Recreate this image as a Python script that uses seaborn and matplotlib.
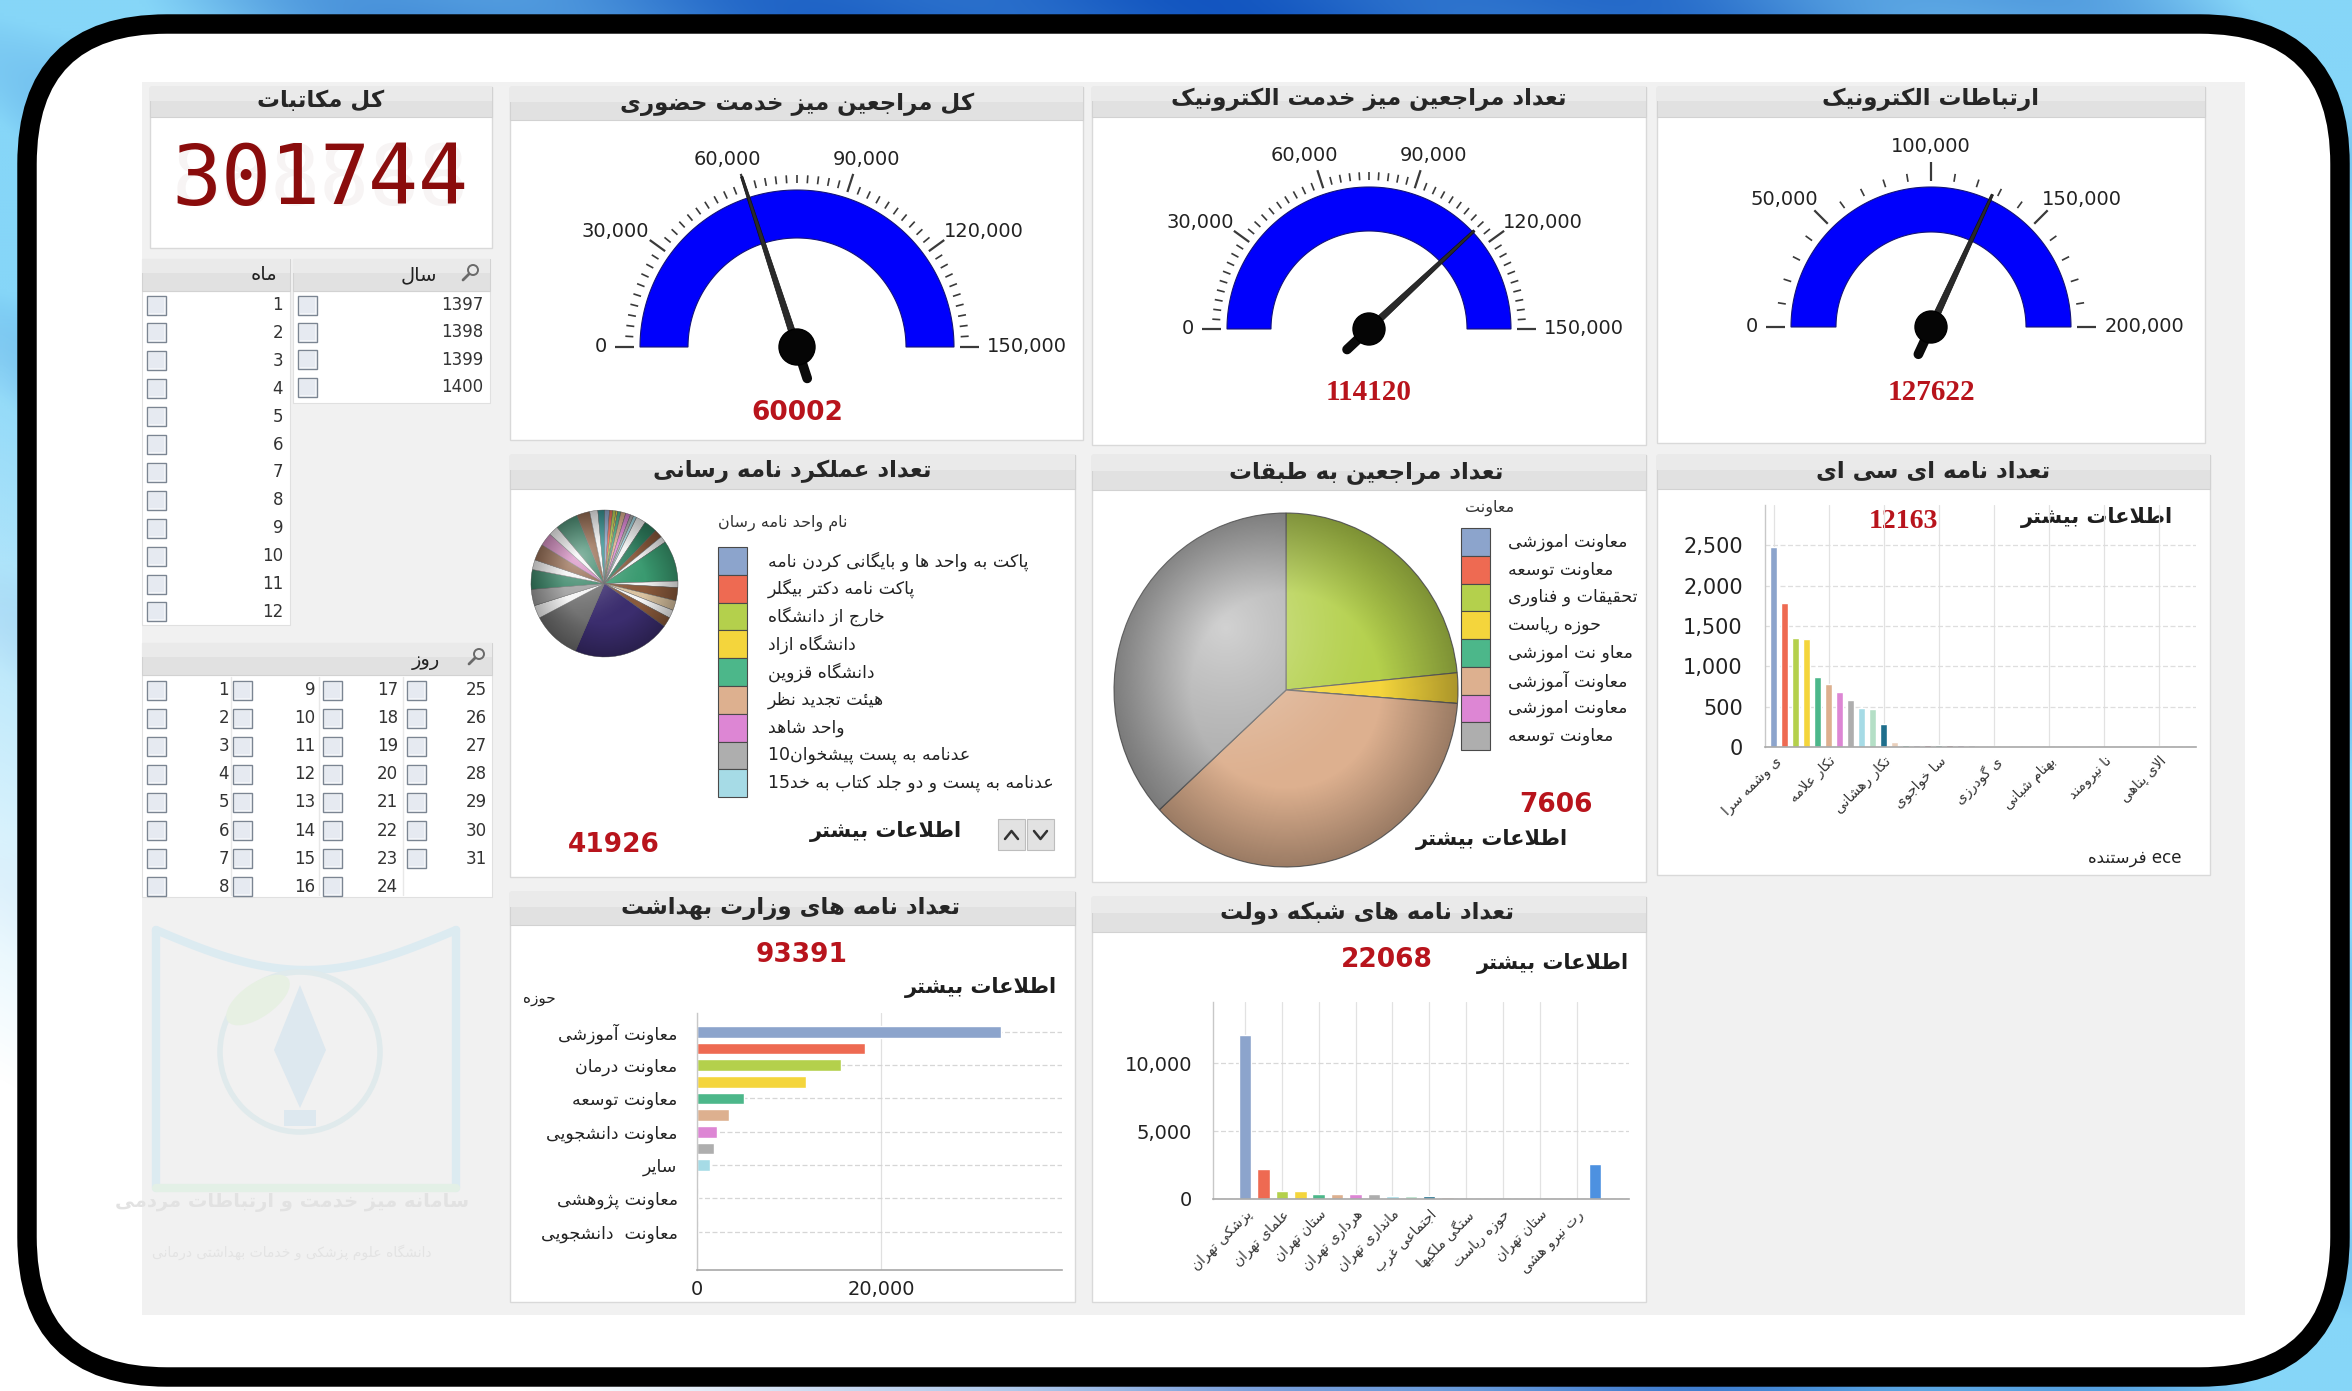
import re
import numpy as np
import pandas as pd
import matplotlib
matplotlib.use("Agg")
import matplotlib.pyplot as plt
import seaborn as sns
from matplotlib.patches import Rectangle, FancyBboxPatch, Polygon, Circle, Ellipse
from matplotlib.colors import to_rgb
from matplotlib.ticker import FuncFormatter

# ------------------------------------------------------------------ data
total_letters = "301744"
count_title = "کل مکاتبات"
gauge_titles = ["کل مراجعین میز خدمت حضوری", "تعداد مراجعین میز خدمت الکترونیک", "ارتباطات الکترونیک"]
gauge_values = [60002, 114120, 127622]
gauge_max = [150000, 150000, 200000]
gauge_major = [30000, 30000, 50000]
gauge_minor = [3000, 3000, 10000]

months = list(range(1, 13))
years = [1397, 1398, 1399, 1400]
days = list(range(1, 32))

courier_title = "تعداد عملکرد نامه رسانی"
courier_legend_title = "نام واحد نامه رسان"
courier_names = ["پاکت به واحد ها و بایگانی کردن نامه", "پاکت نامه دکتر بیگلر", "خارج از دانشگاه",
                 "دانشگاه ازاد", "دانشگاه قزوین", "هیئت تجدید نظر", "واحد شاهد",
                 "عدنامه به پست پیشخوان10", "عدنامه به پست و دو جلد کتاب به خد15"]
courier_values = [452, 302, 302, 151, 302, 452, 452, 302, 302,
                  905, 1206, 754, 603, 3770, 603, 1206, 905, 754, 905, 9048, 4524,
                  1206, 1508, 1810, 905, 1508, 1206, 905, 2111, 1206, 754, 607]
courier_total = 41926

floor_title = "تعداد مراجعین به طبقات"
floor_legend_title = "معاونت"
floor_names = ["معاونت اموزشی", "معاونت توسعه", "تحقیقات و فناوری", "حوزه ریاست",
               "معاو نت اموزشی", "معاونت آموزشی", "معاونت اموزشی", "معاونت توسعه"]
floor_values = [0, 0, 1783, 211, 0, 2811, 0, 2801]
floor_total = 7606

cc_title = "تعداد نامه ای سی ای"
cc_values = [2480, 1785, 1355, 1335, 868, 777, 682, 587, 488, 475, 281, 62, 29, 21, 29, 29, 29, 29, 21,
             12, 10, 10, 8, 8, 6, 6, 5, 5, 14, 5, 5, 10, 12, 12, 10, 10, 6, 5, 5]
cc_tick_labels = ["ی وشمه سرا", "تکار علامه", "تکار رهشانی", "سا خواجوی", "ی گودرزی",
                  "بهنام شبانی", "نا نیرومند", "الای پناهی"]
cc_axis_title = "ece فرستنده"
cc_total = 12163

moh_title = "تعداد نامه های وزارت بهداشت"
moh_values = [33000, 18300, 15650, 11870, 5110, 3500, 2210, 1890, 1410, 150, 110, 80, 60, 30, 21]
moh_labels = ["معاونت آموزشی", "معاونت درمان", "معاونت توسعه", "معاونت دانشجویی", "سایر",
              "معاونت پژوهشی", "معاونت  دانشجویی"]
moh_axis_title = "حوزه"
moh_total = 93391

gov_title = "تعداد نامه های شبکه دولت"
gov_values = [12080, 2210, 560, 560, 390, 390, 390, 390, 200, 200, 245, 150, 20, 15, 10, 10, 8, 5, 5, 2600]
gov_tick_labels = ["پزشکی تهران", "علمای تهران", "ستان تهران", "هرداری تهران", "مانداری تهران",
                   "اجتماعی غرب", "ستگی ملکیها", "حوزه ریاست", "ستان تهران", "رت نیرو هشی"]
gov_total = 22068

more_text = "اطلاعات بیشتر"
logo_lines = ["سامانه میز خدمت و ارتباطات مردمی", "دانشگاه علوم پزشکی و خدمات بهداشتی درمانی"]

palette20 = ['#8ca4cc', '#ee6a52', '#b4d04c', '#f4d53c', '#4cb78a', '#ddb08f', '#dd86d4', '#aeaeae',
             '#a6dbe6', '#b4dfc6', '#1e6e8c', '#ead0bc', '#37a07c', '#a392b5', '#8c2b44', '#2e8f80',
             '#7d2f4a', '#9b78a8', '#b8b8c4', '#4d91e0']
_w, _dg, _br, _be, _sg, _nv, _dk, _gr, _pk, _tl = ('#f4f4f4', '#2f7f5f', '#8a5a3c', '#d9c2a0', '#3a9a70',
                                                   '#3b2d6e', '#6e6e6e', '#9a9a9a', '#d07ab8', '#2a8c8c')
courier_colors = palette20[:9] + [_w, _dg, _br, _w, _sg, _w, _br, _be, _w, _br, _nv, _dk, _w, _gr,
                                  _dg, _w, _br, _pk, _w, _dg, _br, _w, _tl]

# ------------------------------------------------------------------ Persian shaping helpers
_DUAL = {'\u0626': 0xFE89, '\u0628': 0xFE8F, '\u062A': 0xFE95, '\u062B': 0xFE99, '\u062C': 0xFE9D,
         '\u062D': 0xFEA1, '\u062E': 0xFEA5, '\u0633': 0xFEB1, '\u0634': 0xFEB5, '\u0635': 0xFEB9,
         '\u0636': 0xFEBD, '\u0637': 0xFEC1, '\u0638': 0xFEC5, '\u0639': 0xFEC9, '\u063A': 0xFECD,
         '\u0641': 0xFED1, '\u0642': 0xFED5, '\u0643': 0xFED9, '\u0644': 0xFEDD, '\u0645': 0xFEE1,
         '\u0646': 0xFEE5, '\u0647': 0xFEE9, '\u064A': 0xFEF1, '\u067E': 0xFB56, '\u0686': 0xFB7A,
         '\u06A9': 0xFB8E, '\u06AF': 0xFB92, '\u06CC': 0xFBFC}
_RIGHT = {'\u0622': 0xFE81, '\u0623': 0xFE83, '\u0624': 0xFE85, '\u0625': 0xFE87, '\u0627': 0xFE8D,
          '\u0629': 0xFE93, '\u062F': 0xFEA9, '\u0630': 0xFEAB, '\u0631': 0xFEAD, '\u0632': 0xFEAF,
          '\u0648': 0xFEED, '\u0649': 0xFEEF, '\u0698': 0xFB8A}
_LAMALEF = {'\u0622': 0xFEF5, '\u0623': 0xFEF7, '\u0625': 0xFEF9, '\u0627': 0xFEFB}


def _shape(s):
    out, i, n = [], 0, len(s)
    letter = lambda c: c in _DUAL or c in _RIGHT
    while i < n:
        c = s[i]
        prev = s[i - 1] if i > 0 else ''
        jp = (prev in _DUAL) and letter(c)
        if c == '\u0644' and i + 1 < n and s[i + 1] in _LAMALEF:
            out.append(chr(_LAMALEF[s[i + 1]] + (1 if jp else 0)))
            i += 2
            continue
        nxt = s[i + 1] if i + 1 < n else ''
        if c in _DUAL:
            jn = letter(nxt)
            b = _DUAL[c]
            out.append(chr(b + 3 if (jp and jn) else b + 1 if jp else b + 2 if jn else b))
        elif c in _RIGHT:
            out.append(chr(_RIGHT[c] + (1 if jp else 0)))
        elif c != '\u200c':
            out.append(c)
        i += 1
    return ''.join(out)


def fa(s):
    t = _shape(s)[::-1]
    return re.sub(r'[0-9A-Za-z][0-9A-Za-z.,]*', lambda m: m.group(0)[::-1], t)


# ------------------------------------------------------------------ figure
W, H = 2352, 1391
sns.set_theme(style="white")
plt.rcParams['font.family'] = ['DejaVu Sans']
fig = plt.figure(figsize=(W / 100, H / 100), dpi=100)
fig.patch.set_facecolor('white')
bg = fig.add_axes([0, 0, 1, 1])


def box(x0, y0, x1, y1):
    return [x0 / W, 1 - y1 / H, (x1 - x0) / W, (y1 - y0) / H]


# blue background outside the frame
step = 3
yy, xx = np.mgrid[0:H:step, 0:W:step].astype(float)
light = np.array(to_rgb('#86d6f8'))
deep = np.array(to_rgb('#0d4fbd'))
f = np.sin(np.pi * xx / W)
streak = 0.5 + 0.5 * np.sin((xx - 1.6 * yy) / 70.0)
tt = np.clip(0.1 + 0.85 * f - 0.3 * streak * (1 - 0.5 * f), 0, 1)
rgb = light[None, None, :] * (1 - tt[..., None]) + deep[None, None, :] * tt[..., None]
alpha = np.clip(1.4 - 1.8 * yy / H + 1.8 * xx / W, 0, 1)
bg.imshow(np.dstack([rgb, alpha]), extent=[0, W, H, 0], origin='upper', zorder=0, interpolation='bilinear')
bg.set_aspect('auto')
bg.set_xlim(0, W)
bg.set_ylim(H, 0)
bg.axis('off')

bg.add_patch(FancyBboxPatch((27, 24), 2313, 1353, boxstyle="round,pad=0,rounding_size=140",
                            fc='white', ec='black', lw=14, zorder=1))
bg.add_patch(Rectangle((142, 82), 2103, 1233, fc='#f1f1f1', ec='none', zorder=1.5))


def T(x, y, s, **kw):
    kw.setdefault('ha', 'center')
    kw.setdefault('va', 'center')
    kw.setdefault('zorder', 6)
    kw.setdefault('color', '#222222')
    return bg.text(x, y, s, **kw)


def panel(x0, y0, x1, y1, tb, title, tx, ty):
    bg.add_patch(Rectangle((x0, y0), x1 - x0, y1 - y0, fc='white', ec='#d9d9d9', lw=1, zorder=2))
    bg.add_patch(Rectangle((x0, y0), x1 - x0, tb - y0, fc='#e1e1e1', ec='#d2d2d2', lw=0.8, zorder=2.5))
    bg.add_patch(Rectangle((x0, y0), x1 - x0, (tb - y0) * 0.45, fc='#eaeaea', ec='none', zorder=2.6))
    if title:
        T(tx, ty, fa(title), fontsize=16.5, fontweight='bold', color='#262626')


def header(x0, y0, x1, y1):
    bg.add_patch(Rectangle((x0, y0), x1 - x0, y1 - y0, fc='#e1e1e1', ec='#d2d2d2', lw=0.8, zorder=2.5))
    bg.add_patch(Rectangle((x0, y0), x1 - x0, (y1 - y0) * 0.45, fc='#eaeaea', ec='none', zorder=2.6))


def checkbox(x, yc, s=19):
    bg.add_patch(Rectangle((x, yc - s / 2), s, s, fc='#f3f5f9', ec='#7b8592', lw=1.0, zorder=4))
    bg.add_patch(Rectangle((x + 2, yc - s / 2 + 2), s - 4, s - 4, fc='#e6eaf1', ec='none', zorder=4.1))


def magnifier(x, y):
    bg.add_patch(Circle((x + 3, y - 3), 5, fill=False, ec='#6a6a6a', lw=1.4, zorder=5))
    bg.plot([x - 1, x - 7], [y + 1, y + 7], color='#6a6a6a', lw=2, zorder=5)


# ---------------- total letters counter (one cell per digit, unlit "8" behind)
panel(150, 87, 492, 248, 117, count_title, 321, 100)
for i, ch in enumerate(total_letters):
    xc = 196.6 + 49.2 * i
    T(xc, 181, "8", fontsize=60, family='DejaVu Sans Mono', color='#f7f4f4', zorder=5)
    T(xc, 181, ch, fontsize=60, family='DejaVu Sans Mono', color='#8a0c0c', zorder=6)

# ---------------- month / year slicers
header(142, 259, 290, 291)
header(293, 259, 490, 291)
T(277, 275, fa("ماه"), ha='right', fontsize=14)
T(437, 275, fa("سال"), ha='right', fontsize=14)
magnifier(470, 273)
bg.add_patch(Rectangle((142, 291), 148, 334, fc='white', ec='#e0e0e0', lw=0.8, zorder=2))
bg.add_patch(Rectangle((293, 291), 197, 112, fc='white', ec='#e0e0e0', lw=0.8, zorder=2))
for k, m in enumerate(months):
    yc = 305 + 27.9 * k
    checkbox(147, yc)
    T(283, yc, str(m), ha='right', fontsize=12, color='#333333')
for k, yv in enumerate(years):
    yc = 305 + 27.4 * k
    checkbox(298, yc)
    T(483, yc, str(yv), ha='right', fontsize=12, color='#333333')

# ---------------- day slicer
header(142, 643, 492, 675)
T(440, 660, fa("روز"), ha='right', fontsize=14)
magnifier(476, 657)
bg.add_patch(Rectangle((142, 675), 350, 222, fc='white', ec='#e0e0e0', lw=0.8, zorder=2))
cb_x = [147, 233, 323, 407]
num_x = [229, 315, 398, 487]
for xs in [231, 319, 403]:
    bg.plot([xs, xs], [677, 895], color='#e8e8e8', lw=1, zorder=2.5)
for d in days:
    c, r = (d - 1) // 8, (d - 1) % 8
    yc = 690 + 28.1 * r
    checkbox(cb_x[c], yc)
    T(num_x[c], yc, str(d), ha='right', fontsize=12, color='#333333')

# ---------------- faint logo
lc = '#dcebf1'
bg.plot([156, 156], [930, 1188], color=lc, lw=6, zorder=2)
bg.plot([456, 456], [930, 1188], color=lc, lw=6, zorder=2)
th = np.linspace(0, 1, 50)
bg.plot(156 + 150 * th, 930 + 40 * np.sin(np.pi * th / 2), color=lc, lw=6, zorder=2)
bg.plot(456 - 150 * th, 930 + 40 * np.sin(np.pi * th / 2), color=lc, lw=6, zorder=2)
bg.plot([156, 456], [1188, 1188], color='#e3f0e6', lw=6, zorder=2)
bg.add_patch(Circle((300, 1052), 80, fill=False, ec='#e0eaec', lw=4, zorder=2))
bg.add_patch(Ellipse((258, 1000), 74, 34, angle=-35, fc='#e7f0e3', ec='none', zorder=2))
bg.add_patch(Polygon([(300, 985), (326, 1050), (300, 1108), (274, 1050)], fc='#dde8ef', ec='none', zorder=2))
bg.add_patch(Rectangle((284, 1110), 32, 16, fc='#dde8ef', ec='none', zorder=2))
T(292, 1202, fa(logo_lines[0]), fontsize=14, fontweight='bold', color='#e2e2e2', zorder=2.2)
T(292, 1252, fa(logo_lines[1]), fontsize=10, color='#e3e3e3', zorder=2.2)


# ---------------- gauges
def draw_gauge(cx, cy, R, Ri, vmax, major, minor, value, ext, hub_r, tail_len):
    th_ = np.linspace(np.pi, 0, 181)
    ring = np.r_[np.c_[cx + R * np.cos(th_), cy - R * np.sin(th_)],
                 np.c_[cx + Ri * np.cos(th_[::-1]), cy - Ri * np.sin(th_[::-1])]]
    bg.add_patch(Polygon(ring, closed=True, fc='#0000fc', ec='#141478', lw=0.8, zorder=4))
    for v in np.arange(0, vmax + minor / 2, minor):
        a = np.pi * (1 - v / vmax)
        maj = abs(v / major - round(v / major)) < 1e-9
        r0, r1 = (R + 6, R + 25) if maj else (R + 7, R + 15)
        bg.plot([cx + r0 * np.cos(a), cx + r1 * np.cos(a)], [cy - r0 * np.sin(a), cy - r1 * np.sin(a)],
                color='#3a3a3a', lw=1.6 if maj else 1.2, zorder=4, solid_capstyle='butt')
        if maj:
            lab = f"{int(v):,}"
            w = 12.4 * len(lab.replace(',', '')) + 6.2 * lab.count(',')
            x = cx + (R + 33) * np.cos(a) + w / 2 * np.cos(a)
            y = cy - (R + 33) * np.sin(a) - 7 * np.sin(a)
            T(x, y, lab, fontsize=14, color='#222222', zorder=5)
    a = np.pi * (1 - value / vmax)
    d = np.array([np.cos(a), -np.sin(a)])
    p = np.array([-d[1], d[0]])
    c = np.array([cx, cy])
    tip = c + d * (R + ext)
    tail = c - d * tail_len
    bg.add_patch(Polygon([c + p * 3.5, tip + p * 1.2, tip - p * 1.2, c - p * 3.5], closed=True,
                         fc='#2a2a2a', ec='#111111', lw=0.5, zorder=6))
    bg.plot([c[0], tail[0]], [c[1], tail[1]], color='#0a0a0a', lw=7, solid_capstyle='round', zorder=6)
    bg.add_patch(Circle((cx, cy), hub_r, fc='#050505', ec='#000000', zorder=7))


gauge_geo = [  # panel x0, x1, title-bar bottom, title y, cx, cy, R, Ri, needle ext, hub, tail, value y
    (510, 1083, 120, 104, 797, 347, 157, 109, 22, 18, 33, 413),
    (1092, 1646, 117, 99, 1369, 329, 142, 98, 2, 16, 30, 393),
    (1657, 2205, 117, 99, 1931, 327, 140, 95, 6, 16, 30, 393),
]
gauge_bottoms = [440, 445, 443]
for gi, g in enumerate(gauge_geo):
    x0, x1, tb, ty, cx, cy, R, Ri, ext, hub, tl, vy = g
    panel(x0, 87, x1, gauge_bottoms[gi], tb, gauge_titles[gi], cx, ty)
    draw_gauge(cx, cy, R, Ri, gauge_max[gi], gauge_major[gi], gauge_minor[gi], gauge_values[gi], ext, hub, tl)
    serif = gi > 0
    T(cx, vy, str(gauge_values[gi]), fontsize=21 if serif else 19, fontweight='bold',
      family='Liberation Serif' if serif else 'DejaVu Sans', color='#b8141c')

# ---------------- other panels
panel(510, 455, 1075, 877, 489, courier_title, 792, 471)
panel(1092, 455, 1646, 882, 490, floor_title, 1366, 473)
panel(1657, 455, 2210, 875, 489, cc_title, 1933, 471)
panel(510, 892, 1075, 1302, 925, moh_title, 791, 908)
panel(1092, 897, 1646, 1302, 932, gov_title, 1367, 913)


def shade(ax):
    n = 300
    yv, xv = np.mgrid[1:-1:n * 1j, -1:1:n * 1j]
    hl = np.clip(1 - np.hypot(xv + 0.35, yv - 0.35) / 0.95, 0, 1) ** 1.5 * 0.45
    dk = np.clip(np.hypot(xv, yv) - 0.55, 0, 1) / 0.45 * 0.30
    a = hl + dk
    col = hl / (a + 1e-9)
    rgba = np.dstack([col, col, col, np.clip(a, 0, 0.6)])
    im = ax.imshow(rgba, extent=[-1, 1, -1, 1], zorder=5, interpolation='bilinear')
    im.set_clip_path(Circle((0, 0), 1, transform=ax.transData))


def pie_axes(cx, cy, rx, ry):
    m = 1.02
    return fig.add_axes(box(cx - rx * m, cy - ry * m, cx + rx * m, cy + ry * m))


ax1 = pie_axes(604.5, 583.5, 73.5, 73.5)
ax1.pie(courier_values, colors=courier_colors, startangle=90, counterclock=False,
        wedgeprops=dict(edgecolor='#5a5a5a', linewidth=0.3))
shade(ax1)
ax1.set_aspect('auto')
ax1.set_xlim(-1.02, 1.02)
ax1.set_ylim(-1.02, 1.02)
ax1.axis('off')

ax2 = pie_axes(1286, 690, 172, 177)
ax2.pie(floor_values, colors=palette20[:8], startangle=90, counterclock=False,
        wedgeprops=dict(edgecolor='#6b6b6b', linewidth=0.8))
shade(ax2)
ax2.set_aspect('auto')
ax2.set_xlim(-1.02, 1.02)
ax2.set_ylim(-1.02, 1.02)
ax2.axis('off')


def legend_boxes(x0, y0, hstep, colors, names, tx, title, ttx, tty):
    T(ttx, tty, fa(title), ha='left', fontsize=11.5, color='#333333')
    for i, (c, n) in enumerate(zip(colors, names)):
        y = y0 + i * hstep
        bg.add_patch(Rectangle((x0, y), 29, hstep, fc=c, ec='#4a4a4a', lw=0.8, zorder=5))
        T(tx, y + hstep / 2, fa(n), ha='left', fontsize=12.5, color='#222222')


legend_boxes(718, 547, 27.8, palette20[:9], courier_names, 768, courier_legend_title, 718, 523)
legend_boxes(1461, 528, 27.75, palette20[:8], floor_names, 1508, floor_legend_title, 1465, 508)

# up/down buttons
for bx in (998, 1027):
    bg.add_patch(Rectangle((bx, 819), 27, 31, fc='#e2e2e2', ec='#bdbdbd', lw=0.8, zorder=5))
bg.plot([1005, 1011.5, 1018], [839, 831, 839], color='#333333', lw=1.8, zorder=6)
bg.plot([1034, 1040.5, 1047], [831, 839, 831], color='#333333', lw=1.8, zorder=6)

red = '#b8141c'
T(614, 845, str(courier_total), fontsize=19, fontweight='bold', color=red)
T(1556, 805, str(floor_total), fontsize=19, fontweight='bold', color=red)
T(1903, 522, str(cc_total), fontsize=20, fontweight='bold', family='Liberation Serif', color=red)
T(802, 955, str(moh_total), fontsize=19, fontweight='bold', color=red)
T(1387, 960, str(gov_total), fontsize=19, fontweight='bold', color=red)
for (mx, my) in [(886, 832), (1492, 840), (2097, 517), (981, 987), (1553, 963)]:
    T(mx, my, fa(more_text), fontsize=15, fontweight='bold', color='#1e1e1e')

T(2181, 858, fa(cc_axis_title), ha='right', fontsize=12, color='#222222')
T(539, 998, fa(moh_axis_title), fontsize=11, color='#222222')

comma = FuncFormatter(lambda v, p: f"{int(v):,}")


def style_axes(ax):
    ax.set_facecolor('none')
    for s in ('top', 'right'):
        ax.spines[s].set_visible(False)
    ax.spines['left'].set_color('#c8c8c8')
    ax.spines['bottom'].set_color('#a8a8a8')
    ax.spines['left'].set_linewidth(1.0)
    ax.spines['bottom'].set_linewidth(1.2)
    ax.set_axisbelow(True)
    ax.set_xlabel('')
    ax.set_ylabel('')


# ---------------- CC bar chart
axc = fig.add_axes(box(1765, 505, 2196, 747))
dfc = pd.DataFrame({'sender': range(len(cc_values)), 'count': cc_values})
cc_colors = [palette20[i % len(palette20)] for i in range(len(cc_values))]
sns.barplot(data=dfc, x='sender', y='count', hue='sender', palette=cc_colors, legend=False,
            ax=axc, width=0.64, saturation=1)
style_axes(axc)
axc.set_xlim(-0.78, 38.36)
axc.set_ylim(0, 3000)
axc.set_yticks(range(0, 2501, 500))
axc.yaxis.set_major_formatter(comma)
axc.set_xticks(range(0, len(cc_values), 5))
axc.set_xticklabels([fa(s) for s in cc_tick_labels], rotation=45, ha='right', rotation_mode='anchor',
                    fontsize=10, color='#333333')
axc.tick_params(axis='y', length=0, labelsize=15, pad=16, labelcolor='#222222')
axc.tick_params(axis='x', length=0, pad=5)
axc.grid(axis='y', color='#dedede', lw=0.9, ls=(0, (4, 2)))
axc.grid(axis='x', color='#e2e2e2', lw=0.9)

# ---------------- Ministry of Health horizontal bars
axm = fig.add_axes(box(697, 1013, 1062, 1270))
dfm = pd.DataFrame({'area': range(len(moh_values)), 'count': moh_values})
sns.barplot(data=dfm, x='count', y='area', hue='area', orient='h', palette=palette20[:len(moh_values)],
            legend=False, ax=axm, width=0.7, saturation=1)
style_axes(axm)
axm.set_ylim(14.3, -1.12)
axm.set_xlim(0, 39674)
axm.set_yticks(range(0, 2 * len(moh_labels), 2))
axm.set_yticklabels([fa(s) for s in moh_labels], fontsize=12.5, color='#222222')
axm.set_xticks([0, 20000])
axm.xaxis.set_major_formatter(comma)
axm.tick_params(axis='y', length=0, pad=14)
axm.tick_params(axis='x', length=0, labelsize=14, pad=7, labelcolor='#222222')
axm.grid(axis='y', color='#d6d6d6', lw=0.9, ls=(0, (4, 2)))
axm.grid(axis='x', color='#e0e0e0', lw=0.9)

# ---------------- Government network bars
axg = fig.add_axes(box(1213, 1002, 1629, 1199))
dfg = pd.DataFrame({'org': range(len(gov_values)), 'count': gov_values})
sns.barplot(data=dfg, x='org', y='count', hue='org', palette=palette20[:len(gov_values)], legend=False,
            ax=axg, width=0.68, saturation=1)
style_axes(axg)
axg.set_xlim(-1.74, 20.85)
axg.set_ylim(0, 14500)
axg.set_yticks([0, 5000, 10000])
axg.yaxis.set_major_formatter(comma)
axg.set_xticks(range(0, len(gov_values), 2))
axg.set_xticklabels([fa(s) for s in gov_tick_labels], rotation=45, ha='right', rotation_mode='anchor',
                    fontsize=10, color='#333333')
axg.tick_params(axis='y', length=0, labelsize=14, pad=15, labelcolor='#222222')
axg.tick_params(axis='x', length=0, pad=6)
axg.grid(axis='y', color='#d8d8d8', lw=0.9, ls=(0, (4, 2)))
axg.grid(axis='x', color='#e2e2e2', lw=0.9)

fig.savefig('out.png', dpi=100)
